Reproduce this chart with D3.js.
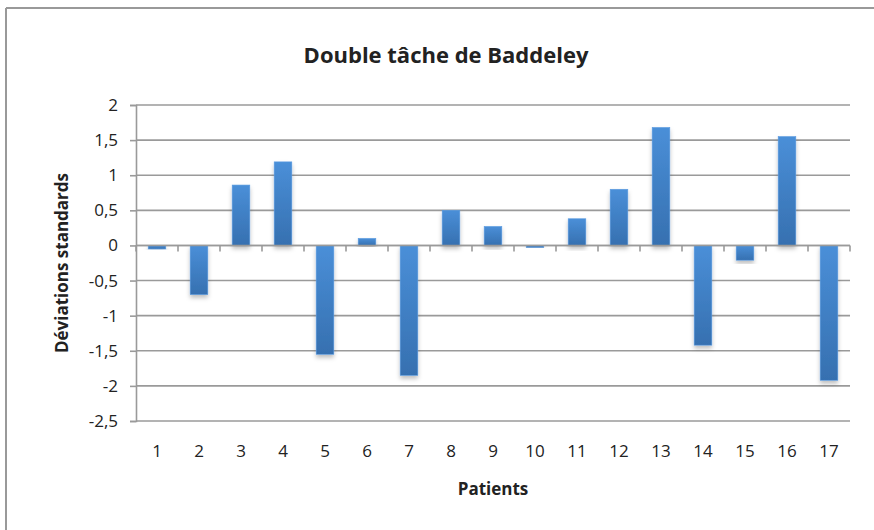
<!DOCTYPE html>
<html>
<head>
<meta charset="utf-8">
<script src="https://cdn.jsdelivr.net/npm/d3@7"></script>
<style>
  body { margin: 0; background: #fff; }
  text { font-family: "Open Sans", "Noto Sans", sans-serif; fill: #222; }
</style>
</head>
<body>
<div id="chart"></div>
<script>
// patients 1..17 and their standard deviations
const patients = ["1","2","3","4","5","6","7","8","9","10","11","12","13","14","15","16","17"];
const deviations = [-0.05, -0.7, 0.86, 1.19, -1.55, 0.1, -1.85, 0.5, 0.27, -0.03, 0.38, 0.8, 1.68, -1.42, -0.21, 1.55, -1.92];
const yTicks = [2, 1.5, 1, 0.5, 0, -0.5, -1, -1.5, -2, -2.5];

const width = 874, height = 530;
const margin = { left: 136, right: 24, top: 105, bottom: 109 };

let svg = d3.select("#chart")
  .append("svg")
  .attr("width", width)
  .attr("height", height);

// bar gradient + soft shadow
let defs = svg.append("defs");
let grad = defs.append("linearGradient")
  .attr("id", "barGrad")
  .attr("x1", 0).attr("y1", 0).attr("x2", 0).attr("y2", 1);
grad.append("stop").attr("offset", "0%").attr("stop-color", "#4a8fd8");
grad.append("stop").attr("offset", "100%").attr("stop-color", "#3670b0");

let shadow = defs.append("filter")
  .attr("id", "shadow")
  .attr("x", "-30%").attr("y", "-10%")
  .attr("width", "160%").attr("height", "130%");
shadow.append("feDropShadow")
  .attr("dx", 0).attr("dy", 3)
  .attr("stdDeviation", 2)
  .attr("flood-color", "#000")
  .attr("flood-opacity", 0.25);

// outer frame (top and left only visible)
svg.append("line")
  .attr("x1", 6).attr("x2", width).attr("y1", 8).attr("y2", 8)
  .style("stroke", "#999").style("stroke-width", 2);
svg.append("line")
  .attr("x1", 6).attr("x2", 6).attr("y1", 8).attr("y2", height)
  .style("stroke", "#999").style("stroke-width", 2);

let x = d3.scaleBand()
  .domain(patients)
  .range([margin.left, width - margin.right])
  .paddingInner(0.58)
  .paddingOuter(0.29);

let y = d3.scaleLinear()
  .domain([-2.5, 2])
  .range([height - margin.bottom, margin.top]);

// gridlines + y labels
let yAxis = d3.axisLeft(y)
  .tickValues(yTicks)
  .tickSize(6)
  .tickFormat(d => String(d).replace(".", ","));

svg.append("g")
  .selectAll("line")
  .data(yTicks)
  .enter().append("line")
  .attr("x1", margin.left)
  .attr("x2", width - margin.right)
  .attr("y1", d => y(d))
  .attr("y2", d => y(d))
  .style("stroke", "#9a9a9a")
  .style("stroke-width", 1.6);

let gy = svg.append("g")
  .attr("transform", `translate(${margin.left},0)`)
  .call(yAxis);
gy.select(".domain").style("stroke", "#9a9a9a").style("stroke-width", 1.6);
gy.selectAll(".tick line").style("stroke", "#9a9a9a").style("stroke-width", 1.6);
gy.selectAll(".tick text")
  .attr("x", -18)
  .style("font-size", "17px")
  .style("font-family", "'Open Sans', sans-serif")
  .style("fill", "#222");

// bars
svg.append("g")
  .selectAll("rect")
  .data(deviations)
  .enter().append("rect")
  .attr("x", (d, i) => x(patients[i]))
  .attr("width", x.bandwidth())
  .attr("y", d => y(Math.max(0, d)))
  .attr("height", d => Math.abs(y(d) - y(0)))
  .style("fill", "url(#barGrad)")
  .style("stroke", "#5a9be0")
  .style("stroke-width", 0.6)
  .attr("filter", "url(#shadow)");

// zero axis with category tick marks
let step = x.step();
let boundaries = d3.range(patients.length + 1).map(i => margin.left + i * step);
svg.append("line")
  .attr("x1", margin.left).attr("x2", width - margin.right)
  .attr("y1", y(0)).attr("y2", y(0))
  .style("stroke", "#9a9a9a").style("stroke-width", 1.6);
svg.append("g")
  .selectAll("line")
  .data(boundaries)
  .enter().append("line")
  .attr("x1", d => d).attr("x2", d => d)
  .attr("y1", y(0)).attr("y2", y(0) + 6)
  .style("stroke", "#9a9a9a").style("stroke-width", 1.6);

// x labels at the bottom
svg.append("g")
  .selectAll("text")
  .data(patients)
  .enter().append("text")
  .attr("x", d => x(d) + x.bandwidth() / 2)
  .attr("y", 457)
  .attr("text-anchor", "middle")
  .style("font-size", "17px")
  .text(d => d);

// titles
svg.append("text")
  .attr("x", 446).attr("y", 63)
  .attr("text-anchor", "middle")
  .style("font-size", "22px")
  .style("font-weight", "bold")
  .text("Double tâche de Baddeley");

svg.append("text")
  .attr("x", 493).attr("y", 495)
  .attr("text-anchor", "middle")
  .style("font-size", "17px")
  .style("font-weight", "bold")
  .text("Patients");

svg.append("text")
  .attr("transform", `translate(68,${y(-0.25)}) rotate(-90)`)
  .attr("text-anchor", "middle")
  .style("font-size", "17px")
  .style("font-weight", "bold")
  .text("Déviations standards");
</script>
</body>
</html>
